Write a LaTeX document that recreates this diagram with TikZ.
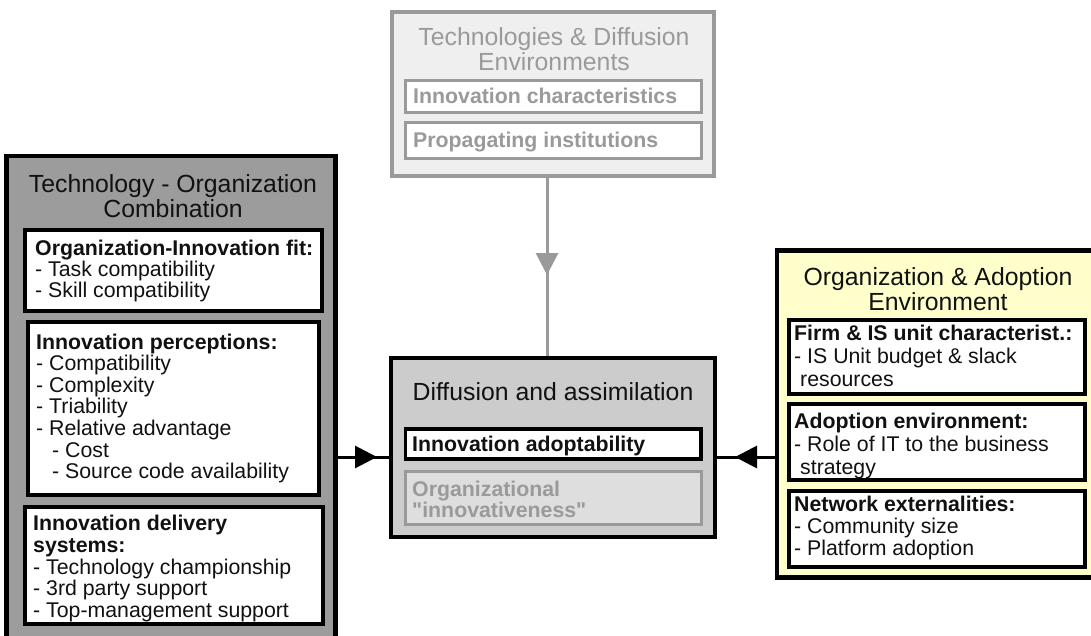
\documentclass[tikz,border=0pt]{standalone}
\usepackage{fontspec}
\setmainfont{Liberation Sans}
\usetikzlibrary{arrows.meta,decorations.markings}
\definecolor{lgray}{HTML}{9A9A9A}
\definecolor{midgray}{HTML}{9C9C9C}
\definecolor{cgray}{HTML}{CCCCCC}
\definecolor{vlgray}{HTML}{EFEFEF}
\definecolor{ogray}{HTML}{DEDEDE}
\definecolor{lyellow}{HTML}{FFFFCC}
\definecolor{ink}{HTML}{111111}
\newcommand\bodyfnt{\fontsize{21.3}{21.3}\selectfont}
\newcommand\titlefnt{\fontsize{24.8}{24.8}\selectfont}
\font\rawbold="Liberation Sans/B" at 21.3pt
\newcommand\bx[6]{\node[#1, minimum width={#5-#3}, minimum height={#6-#4}] (#2) at (#3,#4) {};}
\pgfdeclarelayer{back}
\pgfdeclarelayer{bg}
\pgfsetlayers{back,bg,main}
\tikzset{
  box/.style={draw, inner sep=0pt, outer sep=0pt, anchor=north west},
  outerbox/.style={box, line width=4.5pt, draw=black},
  innerbox/.style={box, line width=3.5pt, draw=black, fill=white},
  grayouter/.style={box, line width=4pt, draw=lgray, fill=vlgray},
  grayinner/.style={box, line width=3pt, draw=lgray, fill=white},
  ttl/.style={font=\titlefnt, anchor=base, inner sep=0pt, text=ink},
  lbl/.style={font=\bodyfnt, anchor=base west, inner sep=0pt, text=ink},
  hd/.style={font=\bodyfnt\bfseries, anchor=base west, inner sep=0pt, text=ink},
  conn/.style={line width=3pt, draw=black},
  gconn/.style={line width=3pt, draw=lgray},
  midtip/.style 2 args={postaction={decorate}, decoration={markings,
      mark=at position #1 with {\arrow[#2]{Triangle[length=22pt,width=22pt]}}}}
}
\begin{document}
\begin{tikzpicture}[x=1pt,y=-1pt]
\useasboundingbox (0,0) rectangle (1091,635);
\begin{pgfonlayer}{back}
\fill[white] (0,0) rectangle (1091,635);
\end{pgfonlayer}

% ---------- top box ----------
\bx{grayouter}{T}{391.5}{11.5}{714}{176}
\bx{grayinner}{T1}{405.5}{80.5}{701.5}{112.5}
\bx{grayinner}{T2}{405.5}{122.5}{701.5}{158.5}
\node[ttl, text=lgray] (tt1) at (554,45) {Technologies \& Diffusion};
\node[ttl, text=lgray] (tt2) at (554,70) {Environments};
\node[hd, text=lgray] (tl1) at (413,103) {Innovation characteristics};
\node[hd, text=lgray] (tl2) at (413,147) {Propagating institutions};

% ---------- left box ----------
\bx{outerbox, fill=midgray}{L}{6.5}{156}{335.5}{650}
\bx{innerbox}{L1}{25}{230}{322}{311}
\bx{innerbox}{L2}{28}{322}{319}{495}
\bx{innerbox}{L3}{25}{507}{323}{624}
\node[ttl] (lt1) at (173,192) {Technology - Organization};
\node[ttl] (lt2) at (173,217) {Combination};
\node[hd] (a1) at (35,255) {Organization-Innovation fit:};
\node[lbl] (a2) at (35,276) {- Task compatibility};
\node[lbl] (a3) at (35,297) {- Skill compatibility};
\node[hd] (b1) at (36,349) {Innovation perceptions:};
\node[lbl] (b2) at (36,370.6) {- Compatibility};
\node[lbl] (b3) at (36,392.2) {- Complexity};
\node[lbl] (b4) at (36,413.8) {- Triability};
\node[lbl] (b5) at (36,435.4) {- Relative advantage};
\node[lbl] (b6) at (52,457) {- Cost};
\node[lbl] (b7) at (52,478.6) {- Source code availability};
\node[hd] (c1) at (33,530) {Innovation delivery};
\node[hd] (c2) at (33,552) {systems:};
\node[lbl] (c3) at (33,574) {- Technology championship};
\node[lbl] (c4) at (33,595.5) {- 3rd party support};
\node[lbl] (c5) at (33,617) {- Top-management support};

% ---------- center box ----------
\bx{outerbox, fill=cgray}{C}{391}{358}{715}{537}
\bx{innerbox}{C1}{405.5}{429}{701}{459}
\bx{grayinner, fill=ogray}{C2}{405.5}{471}{701}{524.5}
\node[ttl] (ct) at (553,400) {Diffusion and assimilation};
\node[hd] (d1) at (412,451) {Innovation adoptability};
\node[hd, text=lgray] (d2) at (412,496) {Organizational};
\node[anchor=base west, inner sep=0pt, text=lgray] (d3) at (412,517) {\rawbold "innovativeness"};

% ---------- right box ----------
\bx{outerbox, fill=lyellow}{R}{777}{250.5}{1100}{577.5}
\bx{innerbox}{R1}{789}{320}{1085}{394}
\bx{innerbox}{R2}{789}{404}{1085}{480}
\bx{innerbox}{R3}{789}{491}{1085}{567}
\node[ttl] (rt1) at (938,285) {Organization \& Adoption};
\node[ttl] (rt2) at (938,310) {Environment};
\node[hd] (e1) at (794,340) {Firm \& IS unit characterist.:};
\node[lbl] (e2) at (794,363) {- IS Unit budget \& slack};
\node[lbl] (e3) at (800,386) {resources};
\node[hd] (f1) at (794,428) {Adoption environment:};
\node[lbl] (f2) at (794,451) {- Role of IT to the business};
\node[lbl] (f3) at (800,474) {strategy};
\node[hd] (g1) at (794,511) {Network externalities:};
\node[lbl] (g2) at (794,533) {- Community size};
\node[lbl] (g3) at (794,555) {- Platform adoption};

% ---------- connectors ----------
\coordinate (ay) at (0,457);
\coordinate (vx) at (547,0);
\begin{pgfonlayer}{bg}
\draw[gconn, midtip={99pt}{lgray}] (T.south -| vx) -- (C.north -| vx);
\draw[conn, midtip={41.5pt}{black}] (L.east |- ay) -- (C.west |- ay);
\draw[conn, midtip={42pt}{black}] (R.west |- ay) -- (C.east |- ay);
\end{pgfonlayer}
\end{tikzpicture}
\end{document}
